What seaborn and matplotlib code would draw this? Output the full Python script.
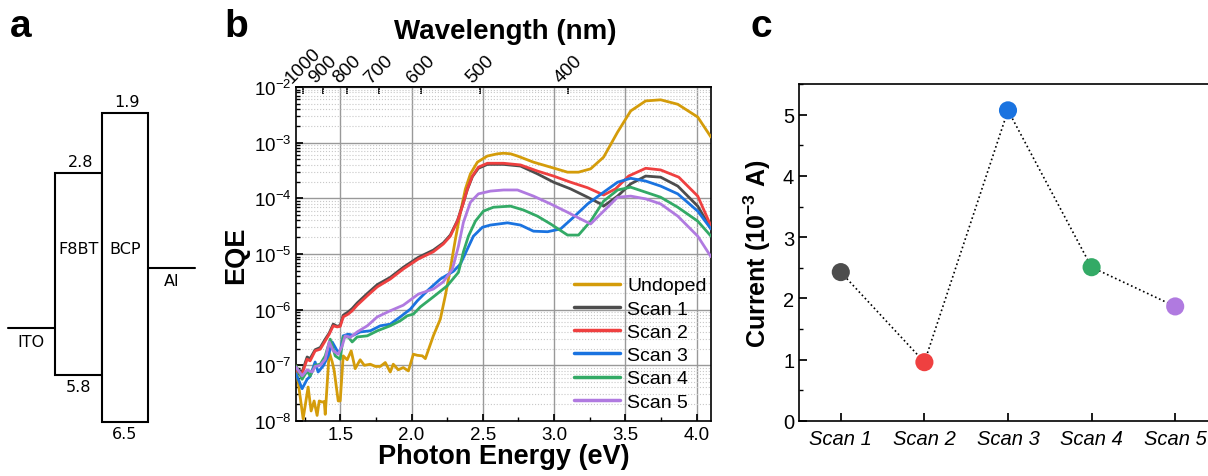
import numpy as np
import pandas as pd
import matplotlib
matplotlib.use('Agg')
import matplotlib.pyplot as plt
from matplotlib.patches import Rectangle
from matplotlib.ticker import MultipleLocator, LogLocator, NullFormatter
import seaborn as sns

sns.set_theme(style = 'ticks')
plt.rcParams['font.family'] = ['Liberation Sans', 'DejaVu Sans']
plt.rcParams['mathtext.fontset'] = 'custom'
plt.rcParams['mathtext.rm'] = 'Liberation Sans'
plt.rcParams['mathtext.bf'] = 'Liberation Sans:bold'
plt.rcParams['mathtext.it'] = 'Liberation Sans:italic'
for key in ['text.color', 'axes.labelcolor', 'xtick.color', 'ytick.color', 'axes.edgecolor']:
    plt.rcParams[key] = 'black'

# ---- panel a: energy levels (eV)
electrode_names = ['ITO', 'Al']
electrode_level = [5.1, 4.2]
electrode_slot = [0, 3]
layer_names = ['F8BT', 'BCP']
layer_lumo = [2.8, 1.9]
layer_homo = [5.8, 6.5]
layer_slot = [1, 2]

# ---- panel b: EQE spectra, photon energy (eV) and log10(EQE)
undoped_e = [1.19, 1.24, 1.275, 1.296, 1.317, 1.338, 1.353, 1.374, 1.388, 1.395, 1.423, 1.444,
             1.458, 1.486, 1.5, 1.521, 1.549, 1.577, 1.605, 1.640, 1.669, 1.711, 1.746, 1.781,
             1.816, 1.851, 1.872, 1.907, 1.942, 1.978, 2.013, 2.041, 2.076, 2.097, 2.153, 2.202,
             2.237, 2.272, 2.308, 2.343, 2.378, 2.413, 2.462, 2.532, 2.603, 2.645, 2.694, 2.743,
             2.855, 2.975, 3.094, 3.171, 3.256, 3.347, 3.445, 3.537, 3.642, 3.747, 3.867, 4.007, 4.1]
undoped_log = [-7.01, -7.96, -7.39, -7.82, -7.64, -7.9, -7.64, -7.66, -7.65, -7.88, -6.76, -6.94,
               -7.1, -7.64, -7.64, -6.83, -6.9, -6.74, -7.06, -6.9, -7.0, -6.98, -7.02, -7.02,
               -6.95, -7.12, -6.98, -7.08, -7.04, -7.1, -6.80, -6.82, -6.83, -6.88, -6.47, -6.17,
               -5.75, -5.27, -4.73, -4.25, -3.83, -3.56, -3.35, -3.24, -3.2, -3.19, -3.2, -3.24,
               -3.35, -3.44, -3.53, -3.53, -3.47, -3.26, -2.81, -2.43, -2.25, -2.23, -2.31, -2.54, -2.9]

scan1_e = [1.19, 1.233, 1.268, 1.289, 1.324, 1.360, 1.395, 1.423, 1.451, 1.479, 1.5, 1.521,
           1.556, 1.584, 1.619, 1.690, 1.760, 1.851, 1.942, 2.048, 2.153, 2.223, 2.272, 2.322,
           2.357, 2.392, 2.427, 2.469, 2.532, 2.645, 2.764, 2.883, 2.996, 3.115, 3.235, 3.326,
           3.347, 3.445, 3.537, 3.642, 3.747, 3.867, 4.007, 4.1]
scan1_log = [-7.05, -7.12, -6.85, -6.88, -6.72, -6.68, -6.53, -6.42, -6.26, -6.30, -6.28, -6.10,
             -6.04, -5.98, -5.88, -5.71, -5.55, -5.42, -5.24, -5.06, -4.93, -4.80, -4.66, -4.40,
             -4.13, -3.84, -3.61, -3.46, -3.39, -3.39, -3.42, -3.56, -3.71, -3.83, -3.98, -4.1,
             -4.14, -3.96, -3.74, -3.6, -3.62, -3.78, -4.14, -4.55]

scan2_e = [1.19, 1.233, 1.268, 1.289, 1.324, 1.360, 1.395, 1.423, 1.451, 1.479, 1.5, 1.521,
           1.556, 1.584, 1.619, 1.690, 1.760, 1.851, 1.942, 2.048, 2.153, 2.223, 2.272, 2.322,
           2.357, 2.392, 2.427, 2.469, 2.532, 2.645, 2.764, 2.883, 2.996, 3.115, 3.235, 3.347,
           3.431, 3.522, 3.642, 3.747, 3.874, 4.007, 4.1]
scan2_log = [-7.10, -7.15, -6.89, -6.92, -6.74, -6.71, -6.56, -6.44, -6.29, -6.31, -6.30, -6.13,
             -6.08, -6.02, -5.92, -5.75, -5.59, -5.45, -5.27, -5.09, -4.96, -4.82, -4.68, -4.41,
             -4.14, -3.83, -3.6, -3.44, -3.37, -3.37, -3.40, -3.51, -3.6, -3.71, -3.81, -3.94,
             -3.83, -3.6, -3.46, -3.49, -3.62, -3.96, -4.5]

scan3_e = [1.19, 1.233, 1.268, 1.289, 1.324, 1.345, 1.381, 1.416, 1.444, 1.479, 1.5, 1.521,
           1.556, 1.591, 1.640, 1.711, 1.781, 1.851, 1.921, 1.992, 2.041, 2.111, 2.202, 2.294,
           2.343, 2.392, 2.434, 2.497, 2.553, 2.673, 2.764, 2.855, 2.954, 3.045, 3.136, 3.235,
           3.347, 3.445, 3.537, 3.642, 3.747, 3.867, 4.007, 4.1]
scan3_log = [-7.15, -7.42, -7.25, -7.2, -6.94, -7.12, -7.01, -6.83, -6.58, -6.74, -6.76, -6.47,
             -6.44, -6.46, -6.40, -6.38, -6.29, -6.26, -6.13, -5.99, -5.84, -5.66, -5.45, -5.31,
             -5.18, -4.91, -4.68, -4.52, -4.48, -4.44, -4.48, -4.59, -4.6, -4.55, -4.34, -4.1,
             -3.89, -3.71, -3.64, -3.69, -3.78, -3.92, -4.23, -4.55]

scan4_e = [1.19, 1.233, 1.268, 1.289, 1.324, 1.360, 1.395, 1.430, 1.465, 1.5, 1.521, 1.556,
           1.584, 1.619, 1.690, 1.760, 1.851, 1.921, 1.970, 2.013, 2.062, 2.153, 2.251, 2.329,
           2.364, 2.399, 2.448, 2.504, 2.574, 2.694, 2.785, 2.883, 2.975, 3.094, 3.171, 3.256,
           3.347, 3.445, 3.537, 3.642, 3.747, 3.867, 4.007, 4.1]
scan4_log = [-7.01, -7.25, -7.1, -7.19, -7.0, -6.98, -6.83, -6.53, -6.83, -6.89, -6.49, -6.49,
             -6.58, -6.49, -6.47, -6.38, -6.29, -6.2, -6.11, -6.08, -5.95, -5.77, -5.57, -5.33,
             -4.96, -4.68, -4.41, -4.23, -4.16, -4.14, -4.21, -4.32, -4.46, -4.66, -4.66, -4.41,
             -4.05, -3.85, -3.80, -3.89, -3.98, -4.16, -4.41, -4.68]

scan5_e = [1.19, 1.233, 1.268, 1.303, 1.324, 1.360, 1.395, 1.423, 1.451, 1.486, 1.514, 1.535,
           1.570, 1.619, 1.690, 1.760, 1.851, 1.942, 2.048, 2.153, 2.223, 2.287, 2.329, 2.364,
           2.413, 2.469, 2.553, 2.645, 2.743, 2.855, 2.975, 3.094, 3.185, 3.256, 3.347, 3.445,
           3.537, 3.642, 3.747, 3.867, 4.007, 4.1]
scan5_log = [-7.03, -7.19, -7.08, -7.12, -7.02, -7.0, -6.89, -6.58, -6.74, -6.8, -6.65, -6.47,
             -6.5, -6.4, -6.29, -6.13, -6.02, -5.92, -5.72, -5.63, -5.5, -5.27, -4.86, -4.43,
             -4.07, -3.92, -3.87, -3.85, -3.85, -3.96, -4.1, -4.25, -4.37, -4.46, -4.23, -3.98,
             -3.96, -4.01, -4.1, -4.32, -4.68, -5.05]

series_names = ['Undoped', 'Scan 1', 'Scan 2', 'Scan 3', 'Scan 4', 'Scan 5']
series_colors = ['#d49c0a', '#4d4d4d', '#ef4040', '#1a73e0', '#33aa66', '#b07ae0']
wavelength_ticks = [1000, 900, 800, 700, 600, 500, 400]

# ---- panel c: current per scan (1e-3 A)
scan_labels = ['Scan 1', 'Scan 2', 'Scan 3', 'Scan 4', 'Scan 5']
scan_current = [2.43, 0.96, 5.07, 2.51, 1.87]


fig = plt.figure(figsize = (12.08, 4.77), dpi = 100)

# ================= panel a
ax_a = fig.add_axes([8 / 1208, 54 / 477, 187 / 1208, 309 / 477])
ax_a.set_xlim(0, 4)
ax_a.set_ylim(6.5, 1.9)
ax_a.axis('off')

for name, lvl, slot in zip(electrode_names, electrode_level, electrode_slot):
    ax_a.plot([slot, slot + 1], [lvl, lvl], color = 'black', linewidth = 1.5, clip_on = False)
    ax_a.annotate(name, (slot + 0.5, lvl), xytext = (0, -4), textcoords = 'offset points',
                  ha = 'center', va = 'top', fontsize = 11.5, family = 'DejaVu Sans')

for name, lumo, homo, slot in zip(layer_names, layer_lumo, layer_homo, layer_slot):
    ax_a.add_patch(Rectangle((slot, lumo), 1, homo - lumo, facecolor = 'white',
                             edgecolor = 'black', linewidth = 1.5, clip_on = False))
    ax_a.annotate(f'{lumo:.1f}', (slot + 0.55, lumo), xytext = (0, 3), textcoords = 'offset points',
                  ha = 'center', va = 'bottom', fontsize = 11.5, family = 'DejaVu Sans')
    ax_a.annotate(f'{homo:.1f}', (slot + 0.5, homo), xytext = (0, -3), textcoords = 'offset points',
                  ha = 'center', va = 'top', fontsize = 11.5, family = 'DejaVu Sans')
    ax_a.text(slot + 0.5, 3.91, name, ha = 'center', va = 'center', fontsize = 11.5,
              family = 'DejaVu Sans')

# ================= panel b
ax_b = fig.add_axes([296 / 1208, 55 / 477, 415 / 1208, 334 / 477])

all_e = [undoped_e, scan1_e, scan2_e, scan3_e, scan4_e, scan5_e]
all_log = [undoped_log, scan1_log, scan2_log, scan3_log, scan4_log, scan5_log]
frames = []
for name, e, lg in zip(series_names, all_e, all_log):
    frames.append(pd.DataFrame({'energy': e, 'eqe': 10.0 ** np.array(lg), 'series': name}))
df = pd.concat(frames, ignore_index = True)

ax_b.set_yscale('log')
sns.lineplot(data = df, x = 'energy', y = 'eqe', hue = 'series', hue_order = series_names,
             palette = series_colors, estimator = None, sort = False, linewidth = 2,
             ax = ax_b, zorder = 3)

ax_b.set_xlim(1.19, 4.1)
ax_b.set_ylim(1e-8, 1e-2)
ax_b.xaxis.set_major_locator(MultipleLocator(0.5))
ax_b.xaxis.set_minor_locator(MultipleLocator(0.25))
ax_b.yaxis.set_major_locator(LogLocator(base = 10, numticks = 10))
ax_b.yaxis.set_minor_locator(LogLocator(base = 10, subs = np.arange(2, 10), numticks = 100))
ax_b.yaxis.set_minor_formatter(NullFormatter())
ax_b.grid(which = 'major', color = '#999999', linewidth = 1.0)
ax_b.grid(which = 'minor', axis = 'y', color = '#c8c8c8', linewidth = 0.8, linestyle = ':')
ax_b.tick_params(which = 'both', direction = 'in', labelsize = 13.5)
ax_b.tick_params(which = 'major', length = 5)
ax_b.tick_params(which = 'minor', length = 3)
for sp in ax_b.spines.values():
    sp.set_linewidth(1.2)

ax_b.set_xlabel('Photon Energy (eV)', fontsize = 19.5, fontweight = 'bold', labelpad = 0)
ax_b.set_ylabel('EQE', fontsize = 19.5, fontweight = 'bold', labelpad = 3)

leg = ax_b.legend(loc = 'lower right', bbox_to_anchor = (1.018, -0.004), frameon = False,
                  fontsize = 14, handlelength = 2.4, handletextpad = 0.35,
                  labelspacing = 0.29, borderaxespad = 0.2)
for line in leg.get_lines():
    line.set_linewidth(2.5)

secax = ax_b.secondary_xaxis('top', functions = (lambda x: 1240.0 / np.maximum(x, 1e-6),
                                                 lambda x: 1240.0 / np.maximum(x, 1e-6)))
secax.set_xticks(wavelength_ticks)
secax.set_xticklabels([str(w) for w in wavelength_ticks], rotation = 45, ha = 'center',
                      va = 'bottom')
secax.tick_params(direction = 'in', length = 5, labelsize = 13.5, pad = 1)
fig.text(505 / 1208, 1 - 32 / 477, 'Wavelength (nm)', ha = 'center', va = 'center',
         fontsize = 20, fontweight = 'bold')

# ================= panel c
ax_c = fig.add_axes([799 / 1208, 55 / 477, 418 / 1208, 337 / 477])
scan_pos = np.arange(1, len(scan_labels) + 1)
sns.lineplot(x = scan_pos, y = scan_current, color = 'black', linestyle = ':', linewidth = 1.2,
             ax = ax_c, zorder = 2)
sns.scatterplot(x = scan_pos, y = scan_current, hue = scan_labels, palette = series_colors[1:],
                s = 170, edgecolor = 'none', legend = False, ax = ax_c, zorder = 3)
ax_c.set_xlim(0.5, 5.5)
ax_c.set_ylim(0, 5.5)
ax_c.set_xticks(scan_pos)
ax_c.set_xticklabels(scan_labels, fontstyle = 'italic')
ax_c.yaxis.set_major_locator(MultipleLocator(1))
ax_c.yaxis.set_minor_locator(MultipleLocator(0.5))
ax_c.tick_params(which = 'both', direction = 'in', labelsize = 14.5)
ax_c.tick_params(which = 'major', length = 6)
ax_c.tick_params(which = 'minor', length = 3)
ax_c.tick_params(axis = 'x', pad = 6)
for sp in ax_c.spines.values():
    sp.set_linewidth(1.2)
ax_c.set_ylabel(r'Current (10$^{\mathbf{-3}}$ A)', fontsize = 18, fontweight = 'bold', labelpad = 7)
ax_c.set_xlabel('')

# panel letters
for letter, xpx in zip(['a', 'b', 'c'], [10, 224, 750]):
    fig.text(xpx / 1208, 1 - 9 / 477, letter, ha = 'left', va = 'top', fontsize = 28,
             fontweight = 'bold')

fig.savefig('out.png', dpi = 100)
